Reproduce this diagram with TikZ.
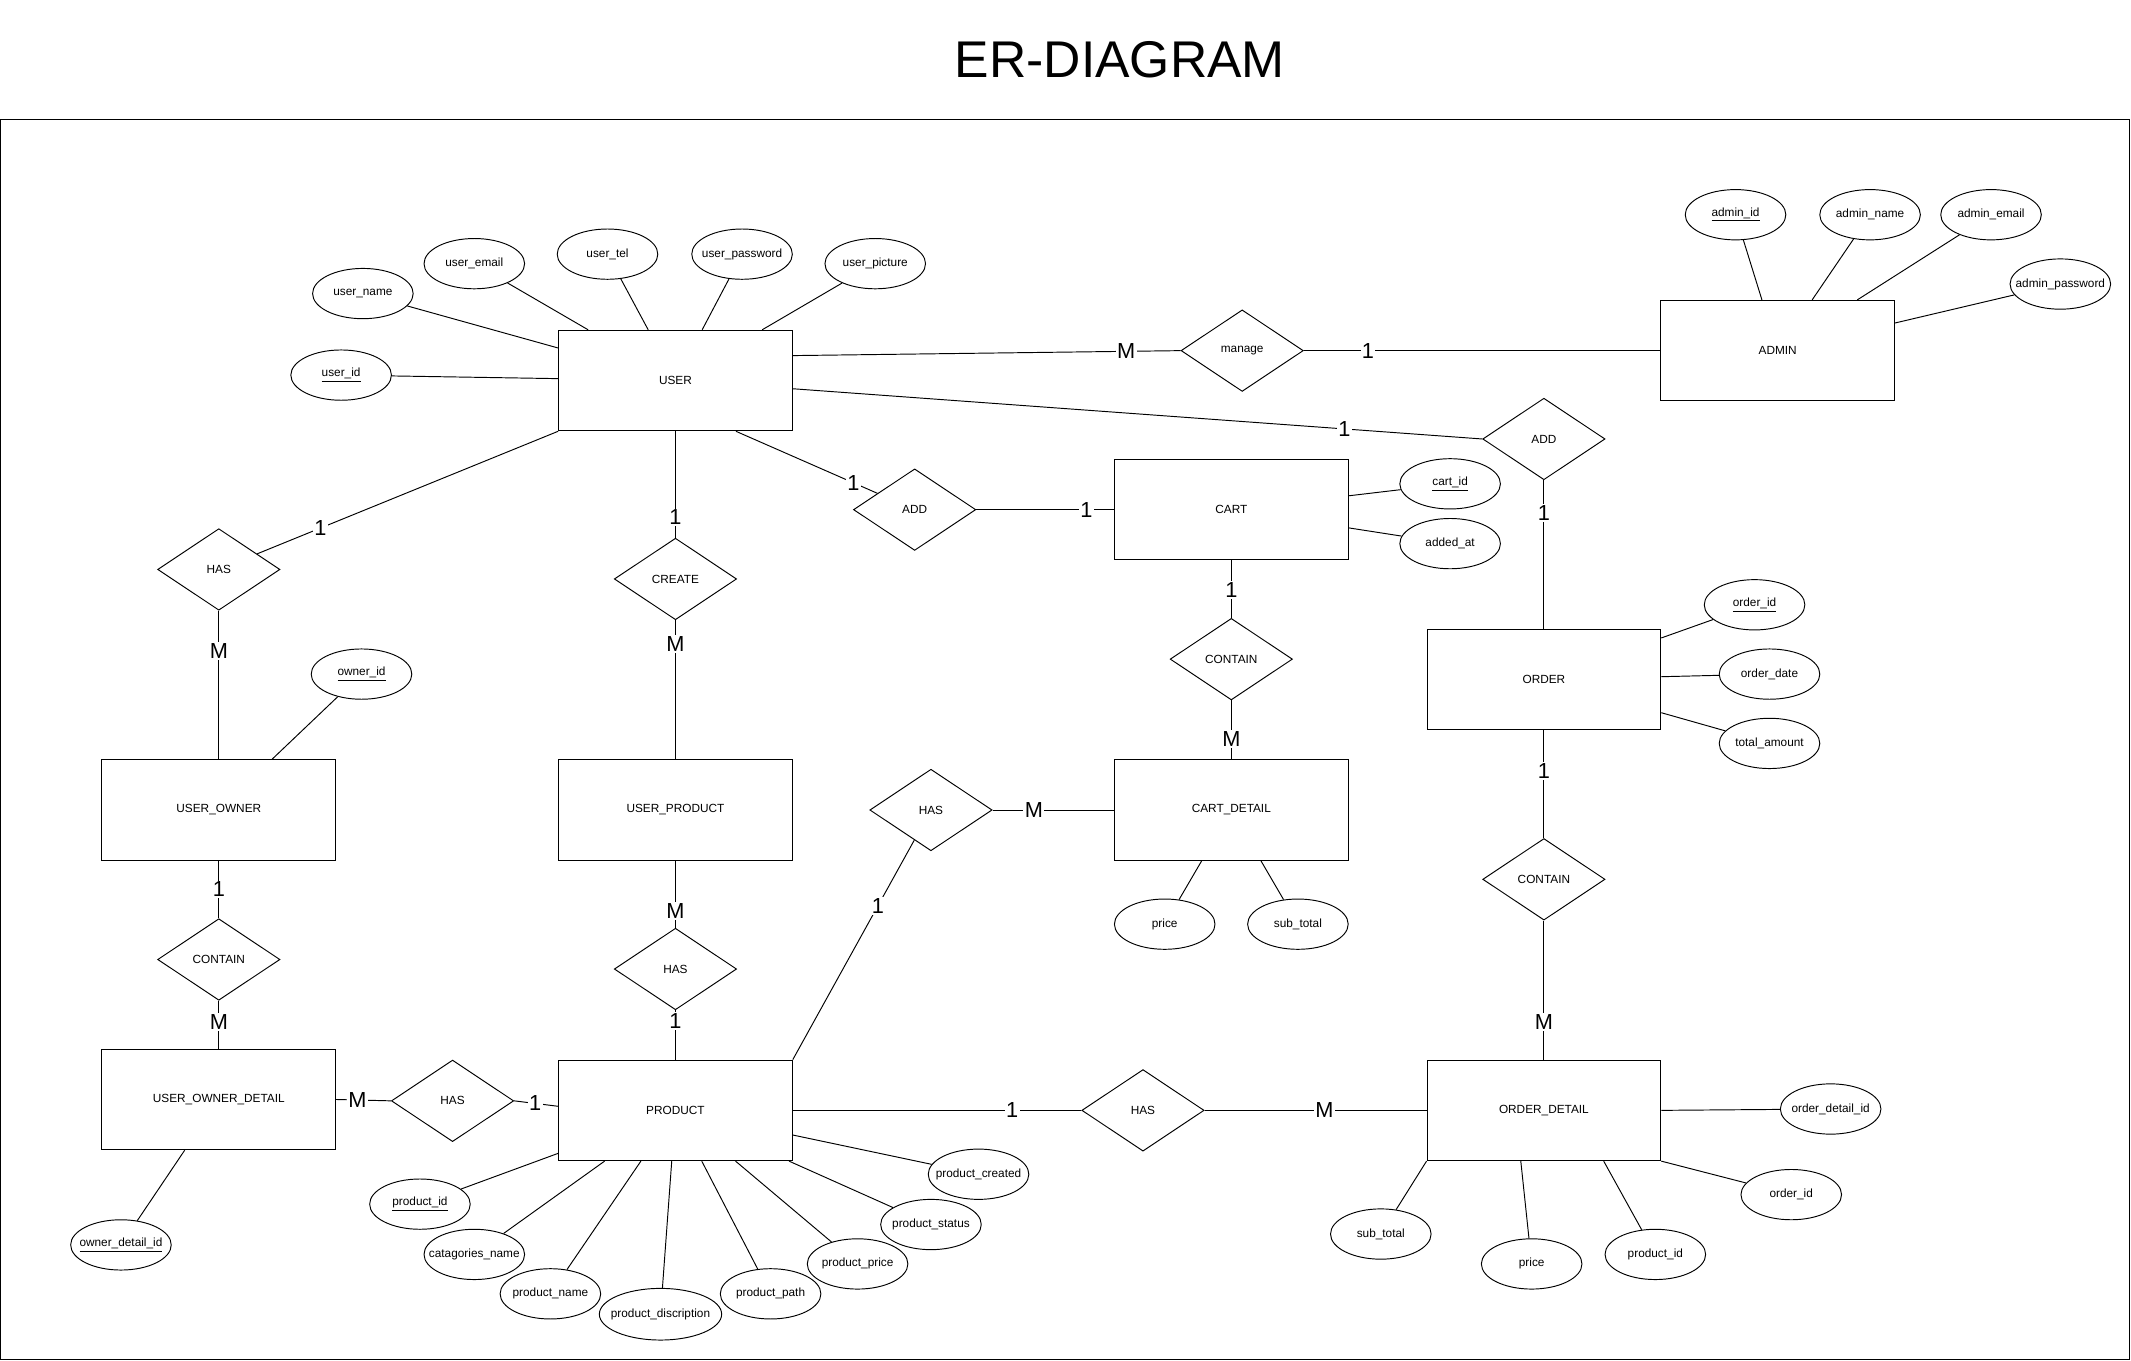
\documentclass[tikz,border=0pt]{standalone}
\usepackage{fontspec}
\setmainfont{Liberation Sans}
\usetikzlibrary{shapes.geometric}

\begin{document}
\begin{tikzpicture}[x=1pt, y=-1pt, line width=0.7pt,
  entitybox/.style={draw, rectangle, minimum width=172pt, minimum height=74pt, font=\fontsize{8.7}{10}\selectfont},
  relbox/.style={draw, diamond, minimum width=90pt, minimum height=60pt, inner sep=0pt, font=\fontsize{8.7}{10}\selectfont},
  attrbox/.style={draw, ellipse, minimum width=74pt, minimum height=37pt, inner xsep=-14pt, inner ysep=0pt, font=\fontsize{8.7}{10}\selectfont},
  cardlabel/.style={fill=white, inner sep=1pt, font=\fontsize{16}{16}\selectfont}]
\useasboundingbox (0,0) rectangle (1568,1001);
\node[font=\fontsize{38}{40}\selectfont] (title) at (824,44) {ER-DIAGRAM};
\draw[line width=1pt] (0.5,88) rectangle (1567,1000.3);

\node[entitybox] (user) at (497,280) {USER};
\node[entitybox] (admin) at (1308,258) {ADMIN};
\node[entitybox] (cart) at (906,375) {CART};
\node[entitybox] (order) at (1136,500) {ORDER};
\node[entitybox] (owner) at (161,596) {USER\_OWNER};
\node[entitybox] (userproduct) at (497,596) {USER\_PRODUCT};
\node[entitybox] (cartdetail) at (906,596) {CART\_DETAIL};
\node[entitybox] (ownerdetail) at (161,809) {USER\_OWNER\_DETAIL};
\node[entitybox] (product) at (497,817) {PRODUCT};
\node[entitybox] (orderdetail) at (1136,817) {ORDER\_DETAIL};

\node[relbox] (manage) at (914,258) {manage};
\node[relbox] (addorder) at (1136,323) {ADD};
\node[relbox] (addcart) at (673,375) {ADD};
\node[relbox] (hasowner) at (161,419) {HAS};
\node[relbox] (create) at (497,426) {CREATE};
\node[relbox] (containcart) at (906,485) {CONTAIN};
\node[relbox] (hascart) at (685,596) {HAS};
\node[relbox] (containorder) at (1136,647) {CONTAIN};
\node[relbox] (containowner) at (161,706) {CONTAIN};
\node[relbox] (hasproduct) at (497,713) {HAS};
\node[relbox] (hasdetail) at (333,810) {HAS};
\node[relbox] (hasorder) at (841,817) {HAS};

\node[attrbox] (userid) at (251,276) {\underline{user\_id}};
\node[attrbox] (username) at (267,216) {user\_name};
\node[attrbox] (useremail) at (349,194) {user\_email};
\node[attrbox] (usertel) at (447,187) {user\_tel};
\node[attrbox] (userpassword) at (546,187) {user\_password};
\node[attrbox] (userpicture) at (644,194) {user\_picture};
\node[attrbox] (adminid) at (1277,158) {\underline{admin\_id}};
\node[attrbox] (adminname) at (1376,158) {admin\_name};
\node[attrbox] (adminemail) at (1465,158) {admin\_email};
\node[attrbox] (adminpassword) at (1516,209) {admin\_password};
\node[attrbox] (cartid) at (1067,356) {\underline{cart\_id}};
\node[attrbox] (addedat) at (1067,400) {added\_at};
\node[attrbox] (orderid) at (1291,445) {\underline{order\_id}};
\node[attrbox] (orderdate) at (1302,496) {order\_date};
\node[attrbox] (totalamount) at (1302,547) {total\_amount};
\node[attrbox] (ownerid) at (266,496) {\underline{owner\_id}};
\node[attrbox] (cartprice) at (857,680) {price};
\node[attrbox] (cartsubtotal) at (955,680) {sub\_total};
\node[attrbox] (ownerdetailid) at (89,916) {\underline{owner\_detail\_id}};
\node[attrbox] (productid) at (309,886) {\underline{product\_id}};
\node[attrbox] (catname) at (349,923) {catagories\_name};
\node[attrbox] (productname) at (405,952) {product\_name};
\node[attrbox, minimum width=90pt, minimum height=38pt] (productdesc) at (486,967) {product\_discription};
\node[attrbox] (productpath) at (567,952) {product\_path};
\node[attrbox] (productprice) at (631,930) {product\_price};
\node[attrbox] (productstatus) at (685,901) {product\_status};
\node[attrbox] (productcreated) at (720,864) {product\_created};
\node[attrbox] (odid) at (1347,816) {order\_detail\_id};
\node[attrbox] (odorderid) at (1318,879) {order\_id};
\node[attrbox] (odproductid) at (1218,923) {product\_id};
\node[attrbox] (odprice) at (1127,930) {price};
\node[attrbox] (odsubtotal) at (1016,908) {sub\_total};

\draw (userid) -- (user);
\draw (username) -- (user);
\draw (useremail) -- (user);
\draw (usertel) -- (user);
\draw (userpassword) -- (user);
\draw (userpicture) -- (user);
\draw (adminid) -- (admin);
\draw (adminname) -- (admin);
\draw (adminemail) -- (admin);
\draw (adminpassword) -- (admin);
\draw (cartid) -- (cart);
\draw (addedat) -- (cart);
\draw (orderid) -- (order);
\draw (orderdate) -- (order);
\draw (totalamount) -- (order);
\draw (ownerid) -- (owner);
\draw (cartprice) -- (cartdetail);
\draw (cartsubtotal) -- (cartdetail);
\draw (ownerdetailid) -- (ownerdetail);
\draw (productid) -- (product);
\draw (catname) -- (product);
\draw (productname) -- (product);
\draw (productdesc) -- (product);
\draw (productpath) -- (product);
\draw (productprice) -- (product);
\draw (productstatus) -- (product);
\draw (productcreated) -- (product);
\draw (odid) -- (orderdetail.east);
\draw (odorderid) -- (orderdetail.south east);
\draw (odproductid) -- ([xshift=44pt]orderdetail.south);
\draw (odprice) -- ([xshift=-17pt]orderdetail.south);
\draw (odsubtotal) -- (orderdetail.south west);

\draw (user.12.5) -- (manage.west) node[cardlabel, pos=0.86]{M};
\draw (manage.east) -- (admin.west) node[cardlabel, pos=0.18]{1};
\draw (user.-4) -- (addorder.west) node[cardlabel, pos=0.8]{1};
\draw (addorder.south) -- (order.north) node[cardlabel, pos=0.22]{1};
\draw (user.-40.7) -- (addcart) node[cardlabel, pos=0.83]{1};
\draw (addcart.east) -- (cart.west) node[cardlabel, pos=0.8]{1};
\draw (user.south west) -- (hasowner) node[cardlabel, pos=0.79]{1};
\draw (hasowner.south) -- (owner.north) node[cardlabel, pos=0.27]{M};
\draw (user.south) -- (create.north) node[cardlabel, pos=0.81]{1};
\draw (create.south) -- (userproduct.north) node[cardlabel, pos=0.17]{M};
\draw (cart.south) -- (containcart.north) node[cardlabel, pos=0.52]{1};
\draw (containcart.south) -- (cartdetail.north) node[cardlabel, pos=0.66]{M};
\draw (cartdetail.west) -- (hascart.east) node[cardlabel, pos=0.66]{M};
\draw (product.north east) -- (hascart) node[cardlabel, pos=0.7]{1};
\draw (order.south) -- (containorder.north) node[cardlabel, pos=0.375]{1};
\draw (containorder.south) -- (orderdetail.north) node[cardlabel, pos=0.73]{M};
\draw (owner.south) -- (containowner.north) node[cardlabel, pos=0.5]{1};
\draw (containowner.south) -- (ownerdetail.north) node[cardlabel, pos=0.44]{M};
\draw (userproduct.south) -- (hasproduct.north) node[cardlabel, pos=0.75]{M};
\draw (hasproduct.south) -- (product.north) node[cardlabel, pos=0.22]{1};
\draw (ownerdetail.east) -- (hasdetail.west) node[cardlabel, pos=0.39]{M};
\draw (hasdetail.east) -- ([yshift=3pt]product.west) node[cardlabel, pos=0.48]{1};
\draw (product.east) -- (hasorder.west) node[cardlabel, pos=0.76]{1};
\draw (hasorder.east) -- (orderdetail.west) node[cardlabel, pos=0.54]{M};
\end{tikzpicture}
\end{document}
